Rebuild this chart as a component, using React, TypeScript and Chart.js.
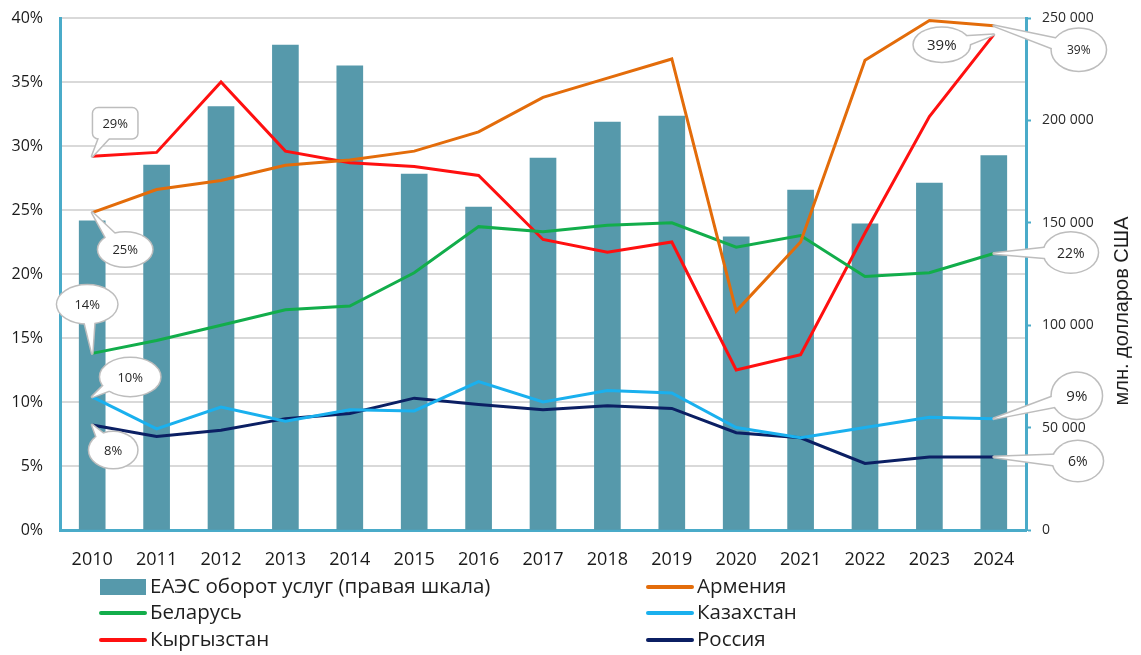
import React, { useEffect, useRef } from 'react';
import { Chart, registerables } from 'chart.js';

Chart.register(...registerables);

const years = ['2010', '2011', '2012', '2013', '2014', '2015', '2016', '2017', '2018', '2019', '2020', '2021', '2022', '2023', '2024'];
const eaeuServices = [151000, 178200, 206700, 236800, 226600, 173800, 157700, 181600, 199200, 202100, 143200, 166000, 149500, 169400, 182800];
const armenia = [24.8, 26.6, 27.3, 28.5, 28.9, 29.6, 31.1, 33.8, 35.3, 36.8, 17.1, 22.5, 36.7, 39.8, 39.4];
const belarus = [13.8, 14.8, 16.0, 17.2, 17.5, 20.1, 23.7, 23.3, 23.8, 24.0, 22.1, 23.0, 19.8, 20.1, 21.6];
const kazakhstan = [10.4, 7.9, 9.6, 8.5, 9.4, 9.3, 11.6, 10.0, 10.9, 10.7, 8.0, 7.2, 8.0, 8.8, 8.7];
const kyrgyzstan = [29.2, 29.5, 35.0, 29.6, 28.7, 28.4, 27.7, 22.7, 21.7, 22.5, 12.5, 13.7, 23.2, 32.3, 38.7];
const russia = [8.2, 7.3, 7.8, 8.7, 9.1, 10.3, 9.8, 9.4, 9.7, 9.5, 7.6, 7.2, 5.2, 5.7, 5.7];

const leftTicks = [0, 5, 10, 15, 20, 25, 30, 35, 40];
const rightTicks = [0, 50000, 100000, 150000, 200000, 250000];

const seriesNames = ['ЕАЭС оборот услуг (правая шкала)', 'Армения', 'Беларусь', 'Казахстан', 'Кыргызстан', 'Россия'];
const seriesColors = ['#5699AB', '#E36C0A', '#12AD4B', '#1AB0EE', '#FF1010', '#0B1F63'];
const rightTitle = 'млн. долларов США';

// callouts: dataset index, point index, label text
const calloutSeries = [4, 1, 2, 3, 5, 4, 1, 2, 3, 5];
const calloutIndex = [0, 0, 0, 0, 0, 14, 14, 14, 14, 14];
const calloutText = ['29%', '25%', '14%', '10%', '8%', '39%', '39%', '22%', '9%', '6%'];
// styling of callouts (offsets and sizes)
const calloutStyle = [
  { dx: 23, dy: -33, rx: 22, ry: 15, rect: true, fs: 13 },
  { dx: 33, dy: 37, rx: 27, ry: 17, fs: 13 },
  { dx: -5, dy: -49, rx: 30, ry: 19, fs: 13 },
  { dx: 38, dy: -20, rx: 30, ry: 19, fs: 13 },
  { dx: 21, dy: 25, rx: 24, ry: 18, fs: 13 },
  { dx: -52, dy: 10, rx: 28, ry: 17, fs: 15 },
  { dx: 85, dy: 24, rx: 27, ry: 21, fs: 12 },
  { dx: 77, dy: -1, rx: 27, ry: 20, fs: 14 },
  { dx: 83, dy: -23, rx: 25, ry: 23, fs: 15 },
  { dx: 84, dy: 4, rx: 25, ry: 20, fs: 14 },
];

const TEAL = '#4AABC9';
const FONT = "'Open Sans', 'DejaVu Sans', sans-serif";

function fmtThousands(v: number): string {
  return String(v).replace(/\B(?=(\d{3})+(?!\d))/g, ' ');
}

const calloutPlugin = {
  id: 'callouts',
  afterDatasetsDraw(chart: any) {
    const ctx = chart.ctx as CanvasRenderingContext2D;
    calloutText.forEach((text, i) => {
      const meta = chart.getDatasetMeta(calloutSeries[i]);
      const pt = meta.data[calloutIndex[i]];
      if (!pt) return;
      const st = calloutStyle[i] as any;
      const px = pt.x, py = pt.y;
      const cx = px + st.dx, cy = py + st.dy;
      const ang = Math.atan2(py - cy, px - cx);
      const ux = Math.cos(ang), uy = Math.sin(ang);
      const bx = cx + ux * st.rx * 0.55, by = cy + uy * st.ry * 0.55;
      const w = 6;
      const shape = () => {
        ctx.beginPath();
        if (st.rect) {
          const x = cx - st.rx, y = cy - st.ry, ww = st.rx * 2, hh = st.ry * 2, r = 5;
          ctx.moveTo(x + r, y);
          ctx.arcTo(x + ww, y, x + ww, y + hh, r);
          ctx.arcTo(x + ww, y + hh, x, y + hh, r);
          ctx.arcTo(x, y + hh, x, y, r);
          ctx.arcTo(x, y, x + ww, y, r);
          ctx.closePath();
        } else {
          ctx.ellipse(cx, cy, st.rx, st.ry, 0, 0, Math.PI * 2);
        }
      };
      const tail = () => {
        ctx.beginPath();
        ctx.moveTo(bx - uy * w, by + ux * w);
        ctx.lineTo(px, py);
        ctx.lineTo(bx + uy * w, by - ux * w);
        ctx.closePath();
      };
      ctx.save();
      ctx.strokeStyle = '#BDBDBD';
      ctx.lineWidth = 3;
      ctx.lineJoin = 'round';
      shape(); ctx.stroke();
      tail(); ctx.stroke();
      ctx.fillStyle = '#FFFFFF';
      shape(); ctx.fill();
      tail(); ctx.fill();
      ctx.fillStyle = '#262626';
      ctx.font = `${st.fs}px ${FONT}`;
      ctx.textAlign = 'center';
      ctx.textBaseline = 'middle';
      ctx.fillText(text, cx, cy + 1);
      ctx.restore();
    });
  },
};

const extrasPlugin = {
  id: 'extras',
  afterDraw(chart: any) {
    const ctx = chart.ctx as CanvasRenderingContext2D;
    ctx.save();
    // right axis title
    ctx.fillStyle = '#1E1E1E';
    ctx.font = `20px 'Liberation Sans', Arial, sans-serif`;
    ctx.textAlign = 'center';
    ctx.textBaseline = 'middle';
    ctx.translate(1122, 311);
    ctx.rotate(-Math.PI / 2);
    ctx.fillText(rightTitle, 0, 0);
    ctx.restore();

    // legend
    ctx.save();
    ctx.font = `20.5px ${FONT}`;
    ctx.textBaseline = 'middle';
    ctx.textAlign = 'left';
    const cols = [100, 647];
    const rows = [587, 613, 640];
    const order = [0, 2, 4, 1, 3, 5];
    order.forEach((s, k) => {
      const col = Math.floor(k / 3);
      const row = k % 3;
      const x = cols[col];
      const y = rows[row];
      if (s === 0) {
        ctx.fillStyle = seriesColors[0];
        ctx.fillRect(x, y - 8, 46, 16);
      } else {
        ctx.strokeStyle = seriesColors[s];
        ctx.lineWidth = 4;
        ctx.lineCap = 'round';
        ctx.beginPath();
        ctx.moveTo(x + 1, y);
        ctx.lineTo(x + 45, y);
        ctx.stroke();
      }
      ctx.fillStyle = '#1E1E1E';
      ctx.fillText(seriesNames[s], x + 50, y);
    });
    ctx.restore();
  },
};

export default function App() {
  const ref = useRef<HTMLCanvasElement | null>(null);
  useEffect(() => {
    if (!ref.current) return;
    Chart.defaults.font.family = FONT;
    const lineDs = (label: string, data: number[], color: string) => ({
      type: 'line' as const,
      label,
      data,
      borderColor: color,
      backgroundColor: color,
      borderWidth: 3,
      pointRadius: 0,
      tension: 0,
      yAxisID: 'y',
      order: 1,
    });
    const fitV = (w: number) => (s: any) => {
      s.width = w;
      s.paddingTop = 0;
      s.paddingBottom = 0;
    };
    const chart = new Chart(ref.current, {
      type: 'bar',
      data: {
        labels: years,
        datasets: [
          {
            type: 'bar' as const,
            label: seriesNames[0],
            data: eaeuServices,
            backgroundColor: seriesColors[0],
            barThickness: 26,
            yAxisID: 'y1',
            order: 10,
          } as any,
          lineDs(seriesNames[1], armenia, seriesColors[1]),
          lineDs(seriesNames[2], belarus, seriesColors[2]),
          lineDs(seriesNames[3], kazakhstan, seriesColors[3]),
          lineDs(seriesNames[4], kyrgyzstan, seriesColors[4]),
          lineDs(seriesNames[5], russia, seriesColors[5]),
        ],
      },
      options: {
        responsive: false,
        animation: false,
        devicePixelRatio: 1,
        layout: { padding: { top: 18, left: 0, right: 0, bottom: 0 } },
        plugins: { legend: { display: false }, tooltip: { enabled: false } },
        scales: {
          x: {
            z: 1,
            grid: { display: false, drawTicks: false },
            border: { display: true, color: TEAL, width: 3 },
            ticks: { color: '#1A1A1A', font: { size: 18 }, padding: 19 },
            afterFit: (s: any) => { s.height = 125; s.paddingLeft = 0; s.paddingRight = 0; },
          },
          y: {
            position: 'left',
            min: 0,
            max: 40,
            afterBuildTicks: (s: any) => { s.ticks = leftTicks.map((v) => ({ value: v })); },
            ticks: { color: '#1A1A1A', font: { size: 16 }, padding: 17, callback: (v: any) => `${v}%` },
            grid: { color: '#D9D9D9', lineWidth: 2, drawTicks: false },
            border: { display: true, color: TEAL, width: 3 },
            afterFit: fitV(60),
          },
          y1: {
            position: 'right',
            min: 0,
            max: 250000,
            afterBuildTicks: (s: any) => { s.ticks = rightTicks.map((v) => ({ value: v })); },
            ticks: { color: '#2A2A2A', font: { size: 14 }, padding: 11, callback: (v: any) => fmtThousands(Number(v)) },
            grid: { drawOnChartArea: false, drawTicks: true, tickLength: 5, color: TEAL, tickWidth: 2 },
            border: { display: true, color: TEAL, width: 3 },
            afterFit: fitV(115),
          },
        },
      } as any,
      plugins: [calloutPlugin, extrasPlugin],
    });
    return () => chart.destroy();
  }, []);
  return (
    <div style={{ position: 'absolute', left: 0, top: 0, width: 1141, height: 655, background: '#fff' }}>
      <canvas ref={ref} width={1141} height={655} />
    </div>
  );
}
